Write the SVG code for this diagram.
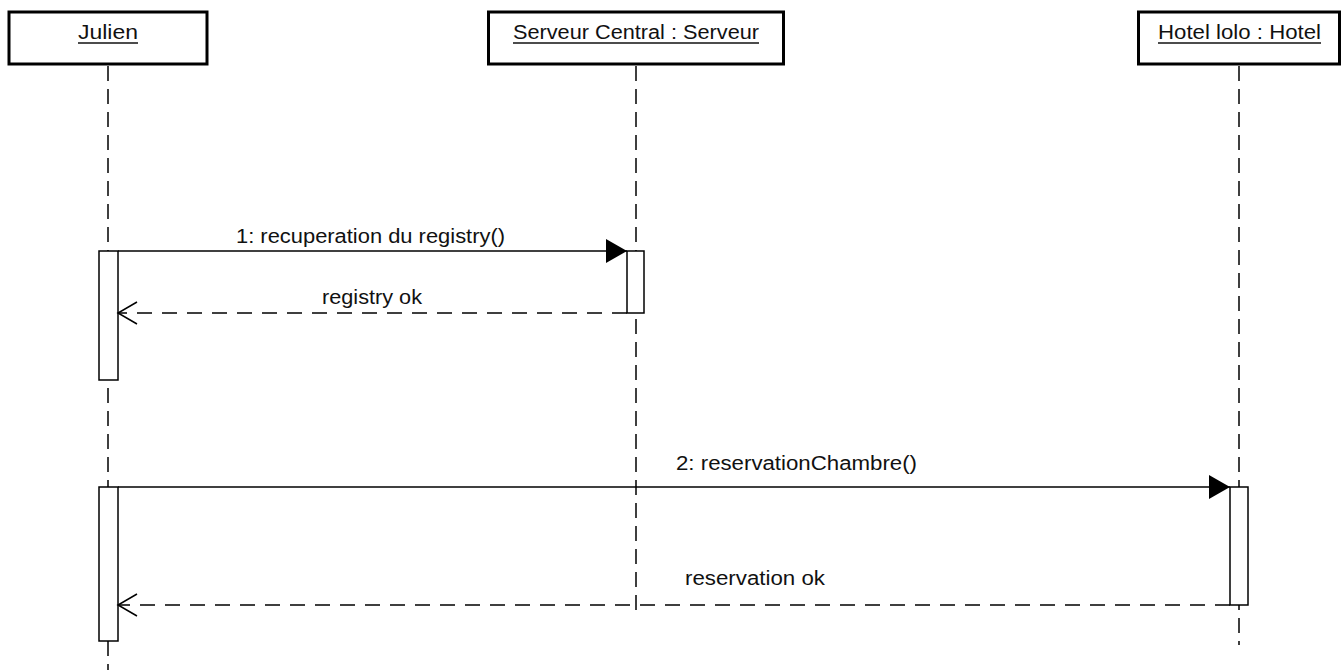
<svg xmlns="http://www.w3.org/2000/svg" width="1343" height="670" viewBox="0 0 1343 670">
<style>
.head{fill:#fff;stroke:#000;stroke-width:3}
.lbl{font-family:"Liberation Sans",Arial,sans-serif;font-size:20px;fill:#111}
.ul{stroke:#111;stroke-width:1.5}
.life{stroke:#000;stroke-width:1.5;stroke-dasharray:15 8;fill:none}
.act{fill:#fff;stroke:#000;stroke-width:1.5}
.call{stroke:#000;stroke-width:1.5;fill:none;marker-end:url(#filled)}
.ret{stroke:#000;stroke-width:1.5;fill:none;stroke-dasharray:15 10;marker-end:url(#open)}
</style>
<defs>
<marker id="filled" markerUnits="userSpaceOnUse" markerWidth="22" markerHeight="26" refX="21" refY="12" orient="auto" overflow="visible">
<path d="M0,0 L21,12 L0,24 Z" fill="#000" stroke="none"/>
</marker>
<marker id="open" markerUnits="userSpaceOnUse" markerWidth="22" markerHeight="24" refX="0" refY="11" orient="auto-start-reverse" overflow="visible">
<path d="M-19,-11 L0,0 L-19,11" transform="translate(0,11)" fill="none" stroke="#000" stroke-width="1.5" stroke-dasharray="none"/>
</marker>
</defs>
<rect width="1343" height="670" fill="#fff"/>
<g id="lifelines">
<line class="life" x1="108" y1="66" x2="108" y2="670"/>
<line class="life" x1="636" y1="66" x2="636" y2="610"/>
<line class="life" x1="1239" y1="66" x2="1239" y2="645"/>
</g>
<g id="julien">
<rect class="head" x="9" y="12" width="198" height="52"/>
<text class="lbl" x="78" y="39" textLength="60" lengthAdjust="spacingAndGlyphs">Julien</text>
<line class="ul" x1="78" y1="43" x2="138" y2="43"/>
<rect class="act" x="99" y="251" width="19" height="129"/>
<rect class="act" x="99" y="487" width="19" height="154"/>
</g>
<g id="serveur">
<rect class="head" x="488.5" y="12" width="295" height="52"/>
<text class="lbl" x="513" y="39" textLength="246" lengthAdjust="spacingAndGlyphs">Serveur Central : Serveur</text>
<line class="ul" x1="513" y1="43" x2="759" y2="43"/>
<rect class="act" x="627" y="251" width="17" height="62"/>
</g>
<g id="hotel">
<rect class="head" x="1138.5" y="12" width="201" height="52"/>
<text class="lbl" x="1158" y="39" textLength="163" lengthAdjust="spacingAndGlyphs">Hotel lolo : Hotel</text>
<line class="ul" x1="1158" y1="43" x2="1321" y2="43"/>
<rect class="act" x="1230" y="487" width="18" height="118"/>
</g>
<g id="connectors">
<line class="call" x1="118" y1="251" x2="627" y2="251"/>
<text class="lbl" x="236" y="243" textLength="269" lengthAdjust="spacingAndGlyphs">1: recuperation du registry()</text>
<path class="ret" d="M627,313 L118,313"/>
<text class="lbl" x="322" y="304" textLength="100" lengthAdjust="spacingAndGlyphs">registry ok</text>
<line class="call" x1="118" y1="487" x2="1230" y2="487"/>
<text class="lbl" x="676" y="470" textLength="241" lengthAdjust="spacingAndGlyphs">2: reservationChambre()</text>
<path class="ret" d="M1230,605 L118,605"/>
<text class="lbl" x="685" y="585" textLength="140" lengthAdjust="spacingAndGlyphs">reservation ok</text>
</g>
</svg>
